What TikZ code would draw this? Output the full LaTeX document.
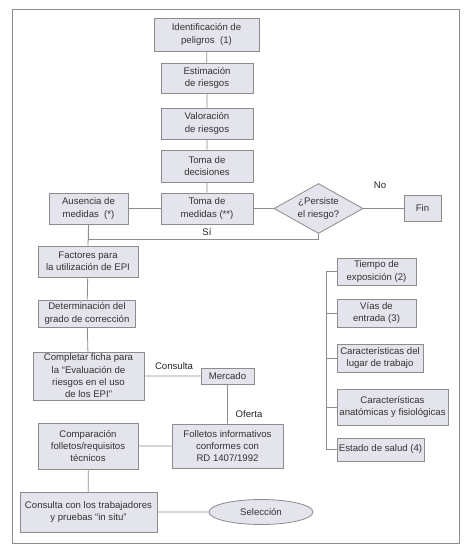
\documentclass[tikz,border=0pt]{standalone}
\usepackage{fontspec}
\setmainfont{Liberation Sans}
\usetikzlibrary{shapes.geometric,positioning}
\definecolor{boxfill}{HTML}{E4E4EC}
\definecolor{boxline}{HTML}{8C8C8C}

\begin{document}
\begin{tikzpicture}[x=1pt,y=-1pt,
    box/.style={draw=boxline,fill=boxfill,line width=0.8pt,align=center,inner sep=0pt,
      font=\fontsize{9.6}{12.3}\selectfont,text=black!80},
    lbl/.style={font=\fontsize{9.6}{12}\selectfont,text=black!85},
    link/.style={draw=boxline,line width=0.8pt}]
  \useasboundingbox (0,0) rectangle (474,553);
  \draw[boxline,fill=white,line width=0.9pt] (12,9) rectangle (459,543);
  % main column
  \node[box,minimum width=105,minimum height=33] (ident) at (206.5,34.5) {Identificación de\\peligros\ \ (1)};
  \node[box,minimum width=92,minimum height=30] (estim) at (207,78) {Estimación\\de riesgos};
  \node[box,minimum width=92,minimum height=31] (valor) at (207,123.5) {Valoración\\de riesgos};
  \node[box,minimum width=92,minimum height=32] (decis) at (207,166) {Toma de\\decisiones};
  \node[box,minimum width=92,minimum height=31] (medid) at (207,208.5) {Toma de\\medidas (**)};
  \node[box,minimum width=79,minimum height=31] (ausen) at (88.5,208.5) {Ausencia de\\medidas\ \ (*)};
  \node[box,diamond,aspect=1.78,minimum width=89,minimum height=50] (persis) at (318.5,208.5) {¿Persiste\\el riesgo?};
  \node[box,minimum width=37,minimum height=26] (fin) at (422.5,208.5) {Fin};
  \node[box,minimum width=100,minimum height=31] (factor) at (88,261.5) {Factores para\\la utilización de EPI};
  \node[box,minimum width=97,minimum height=27] (determ) at (87,313.5) {Determinación del\\grado de corrección};
  \node[box,minimum width=111,minimum height=48] (ficha) at (88.5,376) {Completar ficha para\\la “Evaluación de\\riesgos en el uso\\de los EPI”};
  \node[box,minimum width=53,minimum height=16] (merc) at (227.5,376) {Mercado};
  \node[box,minimum width=111,minimum height=44] (folle) at (227.5,446) {Folletos informativos\\conformes con\\RD 1407/1992};
  \node[box,minimum width=100,minimum height=46] (compar) at (88,446) {Comparación\\folletos/requisitos\\técnicos};
  \node[box,minimum width=137,minimum height=40] (consul) at (88.5,512) {Consulta con los trabajadores\\y pruebas “in situ”};
  \node[box,ellipse,minimum width=104,minimum height=25] (selec) at (261,512) {Selección};
  % factors column
  \node[box,minimum width=79,minimum height=27] (tiempo) at (376.5,271.5) {Tiempo de\\exposición (2)};
  \node[box,minimum width=79,minimum height=28] (vias) at (376.5,313) {Vías de\\entrada (3)};
  \node[box,minimum width=86,minimum height=28] (lugar) at (380,358) {Características del\\lugar de trabajo};
  \node[box,minimum width=111,minimum height=36] (anatom) at (392.5,407) {Características\\anatómicas y fisiológicas};
  \node[box,minimum width=87,minimum height=23] (salud) at (380.5,449.5) {Estado de salud (4)};
  % labels
  \node[lbl] (no) at (380,185) {No};
  \node[lbl] (si) at (207,232) {Sí};
  \node[lbl] (cons) at (174,366) {Consulta};
  \node[lbl] (ofer) at (249,414) {Oferta};
  % connectors
  \draw[link] (ident) -- (estim) -- (valor) -- (decis) -- (medid);
  \draw[link] (ausen) -- (medid) -- (persis) -- (fin);
  \draw[link] (ausen.south) -- (factor.north);
  \draw[link] (persis.south) -- ++(0,5) -| (ausen.south);
  \draw[link] (factor) -- (determ) -- (ficha);
  \draw[link] (ficha) -- (merc) -- (folle) -- (compar) -- (consul) -- (selec);
  \coordinate (brk) at (326,271.5);
  \draw[link] (tiempo.west) -- (brk) |- (salud.west);
  \foreach \n in {vias,lugar,anatom}
    \draw[link] (\n.west) -- (\n.west -| brk);
\end{tikzpicture}
\end{document}
